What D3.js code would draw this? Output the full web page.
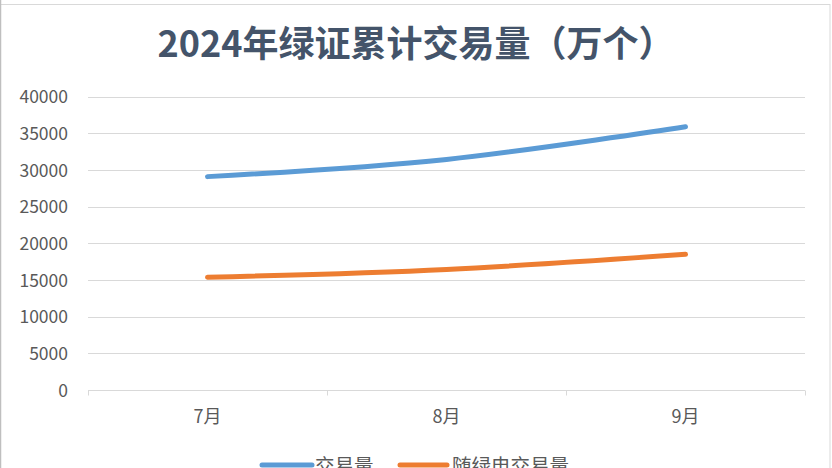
<!DOCTYPE html>
<html><head><meta charset="utf-8">
<script src="https://cdn.jsdelivr.net/npm/d3@7/dist/d3.min.js"></script>
<style>html,body{margin:0;padding:0;background:#fff;}svg{display:block;}</style>
</head><body>
<svg id="c" width="832" height="468"></svg>
<script>
const title = "2024年绿证累计交易量（万个）";
const categories = ["7月", "8月", "9月"];
const seriesNames = ["交易量", "随绿电交易量"];
const tradeVolume = [29100, 31450, 35900];
const greenPowerVolume = [15370, 16450, 18500];
const yTicks = [0, 5000, 10000, 15000, 20000, 25000, 30000, 35000, 40000];
const colors = ["#5B9BD5", "#ED7D31"];

(function () {
const svg = d3.select("#c");
const font = "'Noto Sans CJK SC','Noto Sans',sans-serif";
const plotL = 88, plotR = 805, plotT = 96.7, plotB = 390;

// frame
svg.append("rect").attr("x", 0.5).attr("y", 4.5).attr("width", 829.5).attr("height", 470)
  .attr("fill", "none").attr("stroke", "#D9D9D9").attr("stroke-width", 1);
svg.append("line").attr("x1", 0.5).attr("x2", 0.5).attr("y1", 0).attr("y2", 468)
  .attr("stroke", "#BFBFBF").attr("stroke-width", 1.5);

const x = d3.scaleBand().domain(categories).range([plotL, plotR]).padding(0);
const y = d3.scaleLinear().domain([0, 40000]).range([plotB, plotT]);

// gridlines
svg.append("g").selectAll("line").data(yTicks.filter(d => d > 0)).join("line")
  .attr("x1", plotL).attr("x2", plotR)
  .attr("y1", d => Math.round(y(d)) + 0.5).attr("y2", d => Math.round(y(d)) + 0.5)
  .attr("stroke", "#D9D9D9").attr("stroke-width", 1);

// y axis labels
const yAxis = d3.axisLeft(y).tickValues(yTicks).tickSize(0).tickPadding(0).tickFormat(d3.format("d"));
const gy = svg.append("g").attr("transform", `translate(${plotL - 20},0)`).call(yAxis);
gy.select(".domain").remove();
gy.selectAll("text").attr("font-family", font).attr("font-size", 17.5).attr("fill", "#595959")
  .attr("dy", "0.35em");

// x axis
const xAxis = d3.axisBottom(x).tickSize(0).tickPadding(0);
const gx = svg.append("g").attr("transform", `translate(0,${Math.round(plotB) + 0.5})`).call(xAxis);
gx.select(".domain").attr("stroke", "#D9D9D9").attr("d", `M${plotL},0H${plotR}`);
gx.selectAll("text").attr("font-family", font).attr("font-size", 18).attr("fill", "#595959")
  .attr("y", 26).attr("dy", "0.35em");
const bounds = categories.map(c => x(c)).concat([x(categories[categories.length - 1]) + x.bandwidth()]);
gx.append("g").selectAll("line").data(bounds).join("line")
  .attr("x1", d => Math.round(d) + 0.5).attr("x2", d => Math.round(d) + 0.5)
  .attr("y1", 0).attr("y2", 5).attr("stroke", "#D9D9D9");

// lines
const line = d3.line().x((d, i) => x(categories[i]) + x.bandwidth() / 2).y(d => y(d))
  .curve(d3.curveCatmullRom.alpha(0.5));
[tradeVolume, greenPowerVolume].forEach((s, i) => {
  svg.append("path").datum(s).attr("d", line).attr("fill", "none")
    .attr("stroke", colors[i]).attr("stroke-width", 5).attr("stroke-linecap", "round")
    .attr("stroke-linejoin", "round");
});

// title
svg.append("text").attr("x", 416).attr("y", 57).attr("text-anchor", "middle")
  .attr("font-family", font).attr("font-weight", "bold").attr("font-size", 36)
  .attr("fill", "#44546A").text(title);

// legend
const legendItems = [{x: 262, w: 50, tx: 315}, {x: 400, w: 47, tx: 452}];
seriesNames.forEach((n, i) => {
  const L = legendItems[i];
  svg.append("line").attr("x1", L.x).attr("x2", L.x + L.w).attr("y1", 465).attr("y2", 465)
    .attr("stroke", colors[i]).attr("stroke-width", 5).attr("stroke-linecap", "round");
  svg.append("text").attr("x", L.tx).attr("y", 473).attr("font-family", font)
    .attr("font-size", 19.5).attr("fill", "#595959").text(n);
});
})();
</script>
</body></html>
